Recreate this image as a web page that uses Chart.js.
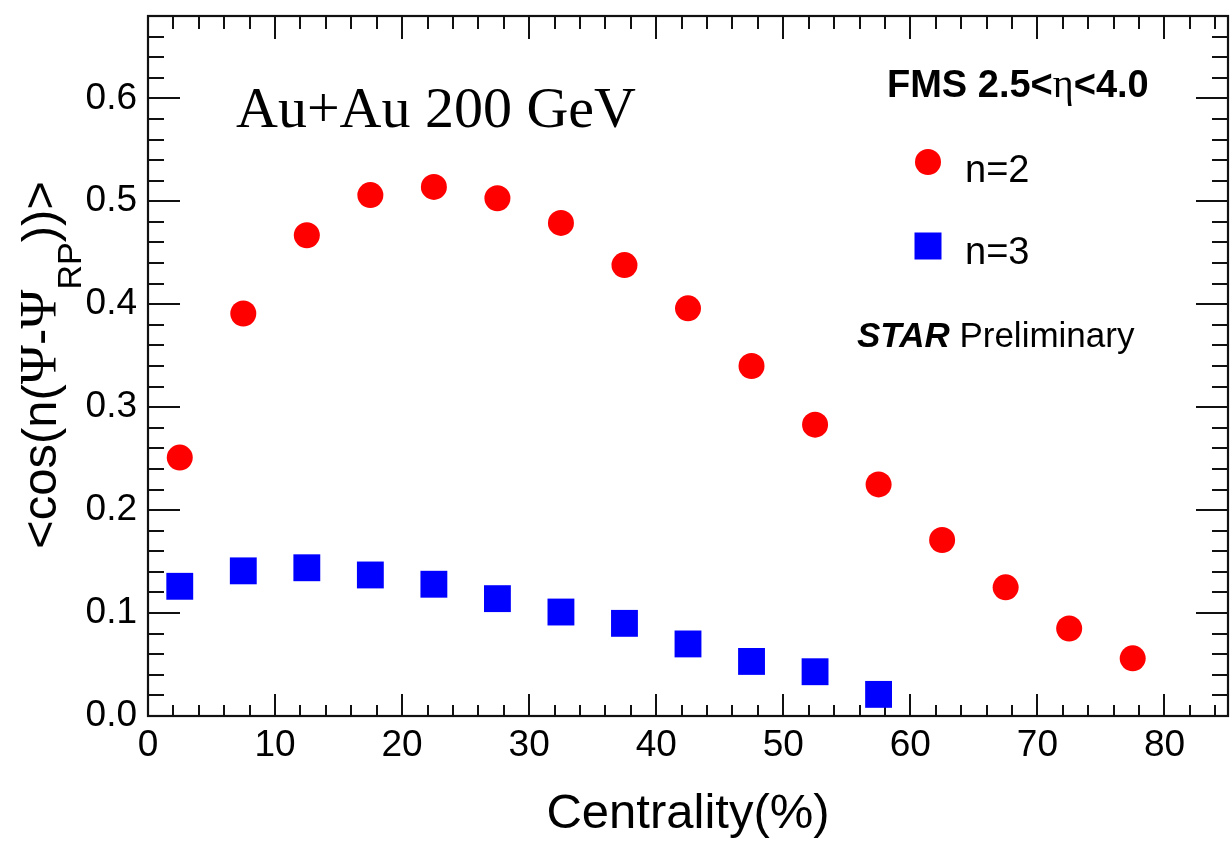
<!DOCTYPE html>
<html>
<head>
<meta charset="utf-8">
<script src="https://cdn.jsdelivr.net/npm/chart.js@4.4.1/dist/chart.umd.min.js"></script>
<style>
html,body{margin:0;padding:0;background:#fff;overflow:hidden;}
#c{display:block;}
</style>
</head>
<body>
<canvas id="c" width="1230" height="844"></canvas>
<script>
// ---- data ----
const centralityN2 = [2.5, 7.5, 12.5, 17.5, 22.5, 27.5, 32.5, 37.5, 42.5, 47.5, 52.5, 57.5, 62.5, 67.5, 72.5, 77.5];
const resN2 = [0.251, 0.391, 0.467, 0.506, 0.514, 0.503, 0.479, 0.438, 0.396, 0.340, 0.283, 0.225, 0.171, 0.125, 0.085, 0.056];
const centralityN3 = [2.5, 7.5, 12.5, 17.5, 22.5, 27.5, 32.5, 37.5, 42.5, 47.5, 52.5, 57.5];
const resN3 = [0.126, 0.141, 0.144, 0.137, 0.128, 0.114, 0.101, 0.090, 0.070, 0.053, 0.043, 0.021];
const xTicks = [0, 10, 20, 30, 40, 50, 60, 70, 80];
const yTicks = [0.0, 0.1, 0.2, 0.3, 0.4, 0.5, 0.6];
const xRange = [0, 85];
const yRange = [0, 0.68];
const labelN2 = 'n=2';
const labelN3 = 'n=3';

const SANS = '"Liberation Sans", Arial, Helvetica, sans-serif';
const SERIF = '"Liberation Serif", "Times New Roman", serif';

// markers must not reserve extra layout padding around the frame
Chart.ScatterController.prototype.getMaxOverflow = function(){ return 0; };

function toPoints(xs, ys){ return xs.map((x,i)=>({x:x, y:ys[i]})); }
function zeroPad(s){ s.paddingTop = 0; s.paddingBottom = 0; s.paddingLeft = 0; s.paddingRight = 0; }

const framePlugin = {
  id: 'rootFrame',
  beforeDatasetsDraw(chart){
    const ctx = chart.ctx, a = chart.chartArea;
    const xs = chart.scales.x, ys = chart.scales.y;
    ctx.save();
    ctx.strokeStyle = '#111';
    ctx.lineWidth = 2;
    ctx.beginPath();
    for (let v = xRange[0]; v <= xRange[1] + 1e-9; v += 2) {
      const px = Math.round(xs.getPixelForValue(v));
      const major = Math.abs(v % 10) < 1e-9;
      const lb = major ? 22 : 11;
      const lt = major ? 23 : 13;
      ctx.moveTo(px, a.bottom); ctx.lineTo(px, a.bottom - lb);
      ctx.moveTo(px, a.top); ctx.lineTo(px, a.top + lt);
    }
    for (let i = 0; i <= Math.round(yRange[1] / 0.02); i++) {
      const v = i * 0.02;
      if (v > yRange[1] + 1e-9) break;
      const py = Math.round(ys.getPixelForValue(v));
      const major = (i % 5) === 0;
      const l = major ? 32 : 16;
      ctx.moveTo(a.left, py); ctx.lineTo(a.left + l, py);
      ctx.moveTo(a.right, py); ctx.lineTo(a.right - l, py);
    }
    ctx.stroke();
    ctx.lineWidth = 2.2;
    ctx.strokeRect(a.left, a.top, a.right - a.left, a.bottom - a.top);
    ctx.restore();
  },
  afterDraw(chart){
    const ctx = chart.ctx;
    const ds = chart.data.datasets;
    ctx.save();
    ctx.fillStyle = '#000';
    ctx.textBaseline = 'alphabetic';
    ctx.textAlign = 'left';
    ctx.font = '58px ' + SERIF;
    ctx.fillText('Au+Au 200 GeV', 236, 127);

    let x = 887;
    const parts = [
      ['FMS 2.5<', 'bold 38px ' + SANS],
      ['\u03B7', '40px ' + SERIF],
      ['<4.0', 'bold 38px ' + SANS]
    ];
    for (const [t, f] of parts) { ctx.font = f; ctx.fillText(t, x, 97); x += ctx.measureText(t).width; }

    ctx.fillStyle = ds[0].backgroundColor;
    ctx.beginPath(); ctx.arc(928, 162, 13, 0, Math.PI*2); ctx.fill();
    ctx.fillStyle = ds[1].backgroundColor;
    ctx.fillRect(928 - 13.5, 246 - 13.5, 27, 27);
    ctx.fillStyle = '#000';
    ctx.font = '38px ' + SANS;
    ctx.fillText(ds[0].label, 965, 182);
    ctx.fillText(ds[1].label, 965, 264);

    ctx.font = 'italic bold 35px ' + SANS;
    ctx.fillText('STAR', 857, 347);
    let w = ctx.measureText('STAR ').width;
    ctx.font = '35px ' + SANS;
    ctx.fillText('Preliminary', 857 + w, 347);

    const segs = [
      ['<cos(n(', '49px ' + SANS, 0],
      ['\u03A8', '53px ' + SERIF, 0],
      ['-', '49px ' + SANS, 0],
      ['\u03A8', '53px ' + SERIF, 0],
      ['RP', '34px ' + SANS, 25],
      ['))>', '49px ' + SANS, 0]
    ];
    let total = 0;
    for (const s of segs) { ctx.font = s[1]; total += ctx.measureText(s[0]).width; }
    ctx.translate(56, 365);
    ctx.rotate(-Math.PI/2);
    let lx = -total/2;
    for (const s of segs) {
      ctx.font = s[1];
      ctx.fillText(s[0], lx, s[2]);
      lx += ctx.measureText(s[0]).width;
    }
    ctx.restore();
  }
};

new Chart(document.getElementById('c'), {
  type: 'scatter',
  data: {
    datasets: [
      {
        label: labelN2,
        data: toPoints(centralityN2, resN2),
        backgroundColor: '#ff0000',
        borderColor: '#ff0000',
        borderWidth: 0,
        pointStyle: 'circle',
        pointRadius: 13,
        pointHoverRadius: 13
      },
      {
        label: labelN3,
        data: toPoints(centralityN3, resN3),
        backgroundColor: '#0000ff',
        borderColor: '#0000ff',
        borderWidth: 0,
        pointStyle: 'rect',
        pointRadius: 19,
        pointHoverRadius: 19
      }
    ]
  },
  options: {
    responsive: false,
    animation: false,
    events: [],
    layout: { padding: { top: 16, right: 2, left: 0, bottom: 0 } },
    plugins: { legend: { display: false }, tooltip: { enabled: false } },
    scales: {
      x: {
        type: 'linear',
        min: xRange[0], max: xRange[1],
        grid: { display: false, drawTicks: false },
        border: { display: false },
        afterBuildTicks(s){ s.ticks = xTicks.map(v => ({value: v})); },
        afterFit(s){ s.height = 128; zeroPad(s); },
        ticks: {
          color: '#000',
          font: { family: SANS, size: 37 },
          padding: 8,
          maxRotation: 0,
          autoSkip: false,
          callback: v => String(v)
        },
        title: {
          display: true,
          text: 'Centrality(%)',
          color: '#000',
          font: { family: SANS, size: 49 },
          padding: { top: 0, bottom: 0 }
        }
      },
      y: {
        type: 'linear',
        min: yRange[0], max: yRange[1],
        grid: { display: false, drawTicks: false },
        border: { display: false },
        afterBuildTicks(s){ s.ticks = yTicks.map(v => ({value: v})); },
        afterFit(s){ s.width = 148; zeroPad(s); },
        ticks: {
          color: '#000',
          font: { family: SANS, size: 37 },
          padding: 11,
          autoSkip: false,
          callback: v => Number(v).toFixed(1)
        }
      }
    }
  },
  plugins: [framePlugin]
});
</script>
</body>
</html>
